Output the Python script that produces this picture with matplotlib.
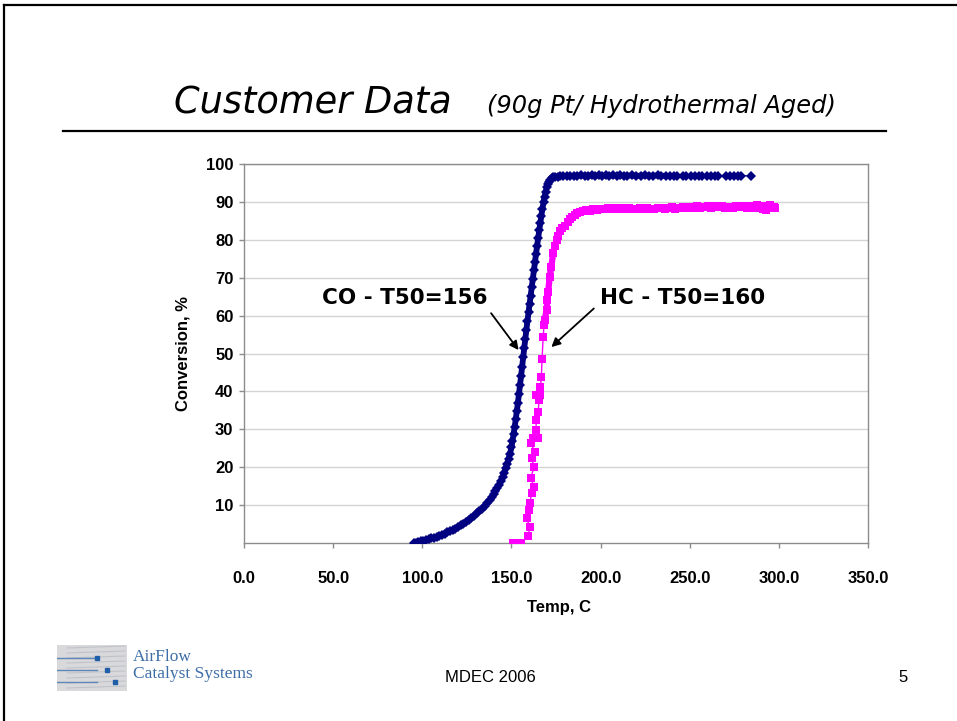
import matplotlib
matplotlib.use("Agg")
import matplotlib.pyplot as plt
import numpy as np
from matplotlib.patches import Rectangle
from matplotlib.lines import Line2D

# ---------------- data ----------------
co_temp = [95.5, 96.5, 97.5, 99, 100.5, 102, 103.5, 105, 106.5, 108, 109.5, 111, 112.5, 114,
           115.5, 117, 118.5, 120, 121.5, 123, 124.5, 126, 127.5, 129, 130.5, 132, 133.5, 135,
           136.5, 138, 139, 140, 141, 142, 143, 144, 145, 146, 146.8, 147.6, 148.4, 149.2,
           150.0, 150.6, 151.2, 151.8, 152.4, 153.0, 153.6, 154.2, 154.8, 155.4, 156.0, 156.6,
           157.2, 157.8, 158.4, 159.0, 159.6, 160.2, 160.8, 161.4, 162.0, 162.6, 163.2, 163.8,
           164.4, 165.0, 165.6, 166.2, 166.8, 167.4, 168.0, 168.6, 169.2, 169.8, 170.4, 171.0,
           171.8, 172.6, 173.5, 174.5, 176, 177.5, 179, 181, 183, 185, 187, 189, 191, 193, 195,
           197, 199, 201, 203, 205, 207, 209, 211, 213, 215, 217.5, 220, 222.5, 225, 227, 229.5,
           232, 234, 236.5, 239, 241, 243, 246, 248, 250.5, 253, 255, 257, 259.5, 262, 264, 266,
           270.5, 272.5, 275, 277, 278.5, 284.5]
co_conv = [0.0, 0.1, 0.2, 0.4, 0.6, 0.8, 1.0, 1.2, 1.4, 1.6, 1.9, 2.2, 2.5, 2.8,
           3.1, 3.4, 3.8, 4.2, 4.7, 5.1, 5.6, 6.1, 6.6, 7.2, 7.8, 8.4, 9.1, 9.8,
           10.6, 11.4, 12.1, 12.8, 13.6, 14.4, 15.3, 16.3, 17.4, 18.6, 19.7, 20.9, 22.2, 23.6,
           25.2, 26.9, 28.7, 30.6, 32.6, 34.7, 36.9, 39.2, 41.6, 44.0, 46.5, 49.0,
           51.5, 53.9, 56.3, 58.6, 60.9, 63.1, 65.3, 67.5, 69.7, 71.9, 74.1, 76.3,
           78.4, 80.5, 82.5, 84.5, 86.4, 88.2, 89.9, 91.4, 92.7, 93.8, 94.7, 95.3,
           95.9, 96.2, 96.5, 96.6, 96.7, 96.8, 96.8, 96.9, 96.8, 96.9, 96.9, 97.0, 96.9, 96.9, 97.0,
           96.9, 97.0, 96.9, 97.0, 96.9, 97.0, 96.9, 97.0, 96.9, 96.9, 97.0, 96.9, 96.9, 97.0, 96.9, 96.9,
           97.0, 96.9, 96.9, 96.8, 96.9, 96.9, 96.9, 96.8, 96.9, 96.9, 96.8, 96.9, 96.9, 96.8, 96.9, 96.9,
           96.8, 96.9, 96.9, 96.8, 96.9, 96.9]

hc_temp = [151.0, 155.6, 159.4, 160.3, 158.5, 159.9, 160.3, 161.3, 162.6, 160.9, 162.6, 161.3,
           163.1, 160.9, 162.2, 165.0, 163.7, 164.0, 165.0, 165.5, 164.0, 165.9, 166.3, 166.8,
           167.2, 167.8, 168.3, 168.7, 169.7, 170.2, 170.6, 171.5, 172.4, 173.4, 174.3, 175.3,
           176.2, 177.1, 178.5, 180.0, 181.5, 182.7, 184.0, 185.5, 187.0, 188.5, 190, 192, 194,
           196, 198, 200, 202, 204, 206, 208, 210, 212, 214, 216, 218, 220, 222, 224, 226, 228,
           230, 232, 234, 236, 238, 240, 242, 244, 246, 248, 250, 252, 254, 256, 258, 260, 262,
           264, 266, 268, 270, 272, 274, 276, 278, 280, 282, 284, 286, 288, 290, 291, 292, 293,
           294, 295, 296, 297, 298]
hc_conv = [0.0, 0.0, 1.8, 4.3, 6.5, 8.7, 10.5, 13.1, 14.9, 17.1, 20.1, 22.3,
           24.1, 26.3, 27.6, 27.6, 29.8, 32.5, 34.6, 37.7, 39.0, 39.0, 41.2, 43.9,
           48.6, 54.4, 57.5, 58.8, 61.5, 64.1, 66.3, 70.3, 72.9, 76.5, 78.3, 80.0,
           81.0, 82.2, 83.0, 83.6, 84.6, 85.4, 86.0, 86.6, 87.0, 87.4, 87.6, 87.9, 87.7,
           88.1, 87.9, 88.2, 88.0, 88.3, 88.1, 88.4, 88.0, 88.3, 88.1, 88.4, 88.2, 88.0, 88.3,
           88.1, 88.4, 88.2, 88.0, 88.3, 88.5, 88.1, 88.3, 88.6, 88.2, 88.5, 88.7, 88.3, 88.6,
           88.4, 88.8, 88.5, 88.7, 88.9, 88.5, 88.8, 88.6, 88.9, 88.5, 88.7, 88.4, 88.8, 88.6,
           88.9, 88.5, 88.8, 88.3, 89.1, 88.4, 88.0, 88.9, 87.9, 88.6, 89.2, 88.3, 88.7, 88.5]

x_ticks = [0, 50, 100, 150, 200, 250, 300, 350]
x_tick_labels = ["0.0", "50.0", "100.0", "150.0", "200.0", "250.0", "300.0", "350.0"]
y_ticks = [10, 20, 30, 40, 50, 60, 70, 80, 90, 100]
y_tick_labels = ["10", "20", "30", "40", "50", "60", "70", "80", "90", "100"]

title_main = "Customer Data"
title_sub = "(90g Pt/ Hydrothermal Aged)"
x_label = "Temp, C"
y_label = "Conversion, %"
co_note = "CO - T50=156"
hc_note = "HC - T50=160"
logo_line1 = "AirFlow"
logo_line2 = "Catalyst Systems"
footer_mid = "MDEC 2006"
footer_page = "5"

# ---------------- figure ----------------
W, H = 957, 721
fig = plt.figure(figsize=(W / 100, H / 100), dpi=100)
fig.patch.set_facecolor("white")

def fx(px):
    return px / W

def fy(py):
    return 1 - py / H

# slide frame (left and top edges visible)
fig.add_artist(Line2D([fx(4), fx(4)], [fy(5), fy(721)], color="black", lw=1.6))
fig.add_artist(Line2D([fx(4), fx(957)], [fy(5), fy(5)], color="black", lw=1.6))

# title
fig.text(fx(174), fy(113), title_main, fontsize=26.5, style="italic",
         family="DejaVu Sans", ha="left", va="baseline", color="black")
fig.text(fx(487), fy(113), title_sub, fontsize=17.4, style="italic",
         family="DejaVu Sans", ha="left", va="baseline", color="black")
fig.add_artist(Line2D([fx(63), fx(886)], [fy(131), fy(131)], color="black", lw=1.6))

# axes
ax = fig.add_axes([fx(244), fy(543), fx(868) - fx(244), fy(164) - fy(543)])
ax.set_xlim(0, 350)
ax.set_ylim(0, 100)
ax.set_facecolor("white")
for s in ax.spines.values():
    s.set_color("#8c8c8c")
    s.set_linewidth(1.0)
ax.set_axisbelow(True)
ax.yaxis.grid(True, color="#d4d4d4", lw=1.0)
ax.set_xticks(x_ticks)
ax.set_xticklabels(x_tick_labels)
ax.set_yticks(y_ticks)
ax.set_yticklabels(y_tick_labels)
ax.tick_params(axis="x", direction="out", length=3.6, width=1, color="#8c8c8c", pad=16.5)
ax.tick_params(axis="y", direction="out", length=3.6, width=1, color="#8c8c8c", pad=4)
for lab in ax.get_xticklabels() + ax.get_yticklabels():
    lab.set_fontfamily("Liberation Sans")
    lab.set_fontweight("bold")
    lab.set_fontsize(12)

ax.set_xlabel(x_label, fontsize=12, fontweight="bold", family="Liberation Sans")
ax.set_ylabel(y_label, fontsize=12, fontweight="bold", family="Liberation Sans")
ax.xaxis.set_label_coords(0.505, -0.150)
ax.yaxis.set_label_coords(-0.0865, 0.5)

co_t = np.array(co_temp)
co_c = np.array(co_conv)
hc_t = np.array(hc_temp)
hc_c = np.array(hc_conv)

navy = "#000080"
mag = "#ff00ff"

dense = co_t <= 240
ax.plot(co_t[dense], co_c[dense], color=navy, lw=4.2, solid_capstyle="round", zorder=3)
ax.plot(co_t, co_c, color=navy, lw=0.8, marker="D", markersize=5.2, markeredgewidth=0,
        zorder=4)

hc_dense = hc_t >= 168
ax.plot(hc_t[hc_dense], hc_c[hc_dense], color=mag, lw=4.5, solid_capstyle="round", zorder=5)
ax.plot(hc_t, hc_c, color=mag, lw=1.0, marker="s", markersize=6.2, markeredgewidth=0,
        zorder=5)

# annotations
ax.annotate(co_note, xy=(154.0, 50.9), xytext=(136.5, 64.6), ha="right", va="center",
            fontsize=15.5, fontweight="bold", family="DejaVu Sans",
            arrowprops=dict(arrowstyle="-|>", color="black", lw=1.3, mutation_scale=13,
                            shrinkA=2, shrinkB=0, relpos=(1.0, 0.0)))
ax.annotate(hc_note, xy=(172.4, 51.7), xytext=(199.5, 64.6), ha="left", va="center",
            fontsize=15.5, fontweight="bold", family="DejaVu Sans",
            arrowprops=dict(arrowstyle="-|>", color="black", lw=1.3, mutation_scale=13,
                            shrinkA=3, shrinkB=0, relpos=(0.0, 0.25)))

# footer: logo block
logo_ax = fig.add_axes([fx(57), fy(691), fx(127) - fx(57), fy(645) - fy(691)])
logo_ax.set_xlim(0, 70)
logo_ax.set_ylim(0, 46)
logo_ax.axis("off")
logo_ax.add_patch(Rectangle((0, 0), 70, 46, color="#d9d9dc", zorder=0))
for yy in range(3, 46, 5):
    logo_ax.plot([10, 68], [yy, yy + 2], color="#bfc3c9", lw=0.8, zorder=1)
for (x0, y0) in [(0, 33), (0, 21), (0, 9)]:
    logo_ax.plot([x0, x0 + 40], [y0, y0], color="#5f86b8", lw=1.0, zorder=2)
logo_ax.plot([40, 50, 58], [33, 21, 9], "s", color="#1f5fa8", markersize=3, zorder=3)

fig.text(fx(133), fy(661), logo_line1, fontsize=12.5, family="Liberation Serif",
         color="#3d6ea8", ha="left", va="baseline")
fig.text(fx(133), fy(678.5), logo_line2, fontsize=12.5, family="Liberation Serif",
         color="#3d6ea8", ha="left", va="baseline")

fig.text(fx(490), fy(677), footer_mid, fontsize=12, family="Liberation Sans",
         ha="center", va="center")
fig.text(fx(903), fy(677), footer_page, fontsize=12, family="Liberation Sans",
         ha="center", va="center")

fig.savefig("out.png", dpi=100, facecolor="white")
